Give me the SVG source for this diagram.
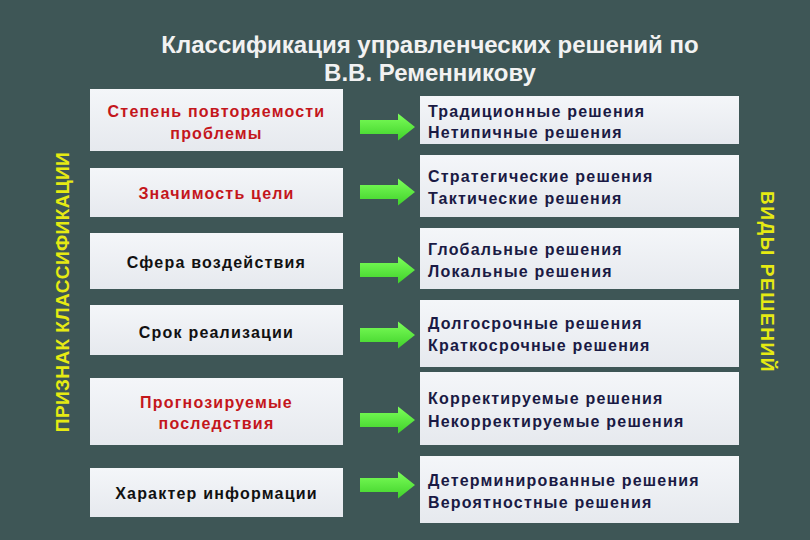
<svg xmlns="http://www.w3.org/2000/svg" width="810" height="540" viewBox="0 0 810 540">
<defs>
<linearGradient id="box" x1="0" y1="0" x2="0" y2="1">
<stop offset="0" stop-color="#f4f6f9"/>
<stop offset="1" stop-color="#e6e9ee"/>
</linearGradient>
<linearGradient id="arr" x1="0" y1="0" x2="0" y2="1">
<stop offset="0" stop-color="#7dff5a"/>
<stop offset="1" stop-color="#3fd12a"/>
</linearGradient>
<path id="arrow" d="M0,-7 H38 V-13.5 L55,0 L38,13.5 V7 H0 Z"/>
</defs>
<style>
.bg{fill:#3e5656}
.box{fill:url(#box)}
.t{font-family:"Liberation Sans",Arial,sans-serif;font-weight:bold;font-size:16px;letter-spacing:1.2px}
.l{text-anchor:middle;fill:#111}
.red{fill:#c4161c}
.r{fill:#1a1a44}
.title{font-family:"Liberation Sans",Arial,sans-serif;font-weight:bold;font-size:24px;fill:#f2f2f2;text-anchor:middle}
.side{font-family:"Liberation Sans",Arial,sans-serif;font-weight:bold;font-size:19px;fill:#e6ea12;text-anchor:middle;letter-spacing:0.4px}
.a{fill:url(#arr)}
</style>
<rect class="bg" x="0" y="0" width="810" height="540"/>
<g id="title">
<text class="title" x="430" y="53">Классификация управленческих решений по</text>
<text class="title" x="430" y="81">В.В. Ременникову</text>
</g>
<g id="side-left"><text class="side" transform="translate(69,292) rotate(-90)">ПРИЗНАК КЛАССИФИКАЦИИ</text></g>
<g id="side-right"><text class="side" style="letter-spacing:1.6px" transform="translate(761,282) rotate(90)">ВИДЫ РЕШЕНИЙ</text></g>

<g id="c1"><rect class="box" x="90" y="89" width="253" height="62"/>
<text class="t l red" x="216.5" y="117">Степень повторяемости</text>
<text class="t l red" x="216.5" y="139">проблемы</text></g>
<g id="c2"><rect class="box" x="90" y="168" width="253" height="49"/>
<text class="t l red" x="216.5" y="199">Значимость цели</text></g>
<g id="c3"><rect class="box" x="90" y="233" width="253" height="56"/>
<text class="t l" x="216.5" y="268">Сфера воздействия</text></g>
<g id="c4"><rect class="box" x="90" y="305" width="253" height="50"/>
<text class="t l" x="216.5" y="338">Срок реализации</text></g>
<g id="c5"><rect class="box" x="90" y="378" width="253" height="67"/>
<text class="t l red" x="216.5" y="408">Прогнозируемые</text>
<text class="t l red" x="216.5" y="429">последствия</text></g>
<g id="c6"><rect class="box" x="90" y="468" width="253" height="49"/>
<text class="t l" x="216.5" y="499">Характер информации</text></g>

<g id="v1"><rect class="box" x="420" y="96" width="319" height="48"/>
<text class="t r" x="428" y="117">Традиционные решения</text>
<text class="t r" x="428" y="138">Нетипичные решения</text></g>
<g id="v2"><rect class="box" x="420" y="155" width="319" height="62"/>
<text class="t r" x="428" y="182">Стратегические решения</text>
<text class="t r" x="428" y="204">Тактические решения</text></g>
<g id="v3"><rect class="box" x="420" y="228" width="319" height="61"/>
<text class="t r" x="428" y="255">Глобальные решения</text>
<text class="t r" x="428" y="277">Локальные решения</text></g>
<g id="v4"><rect class="box" x="420" y="300" width="319" height="67"/>
<text class="t r" x="428" y="329">Долгосрочные решения</text>
<text class="t r" x="428" y="351">Краткосрочные решения</text></g>
<g id="v5"><rect class="box" x="420" y="372" width="319" height="73"/>
<text class="t r" x="428" y="404">Корректируемые решения</text>
<text class="t r" x="428" y="427">Некорректируемые решения</text></g>
<g id="v6"><rect class="box" x="420" y="456" width="319" height="67"/>
<text class="t r" x="428" y="486">Детерминированные решения</text>
<text class="t r" x="428" y="508">Вероятностные решения</text></g>

<g id="connectors">
<use class="a" href="#arrow" x="360" y="127"/>
<use class="a" href="#arrow" x="360" y="192"/>
<use class="a" href="#arrow" x="360" y="270"/>
<use class="a" href="#arrow" x="360" y="335"/>
<use class="a" href="#arrow" x="360" y="420"/>
<use class="a" href="#arrow" x="360" y="485"/>
</g>
</svg>
